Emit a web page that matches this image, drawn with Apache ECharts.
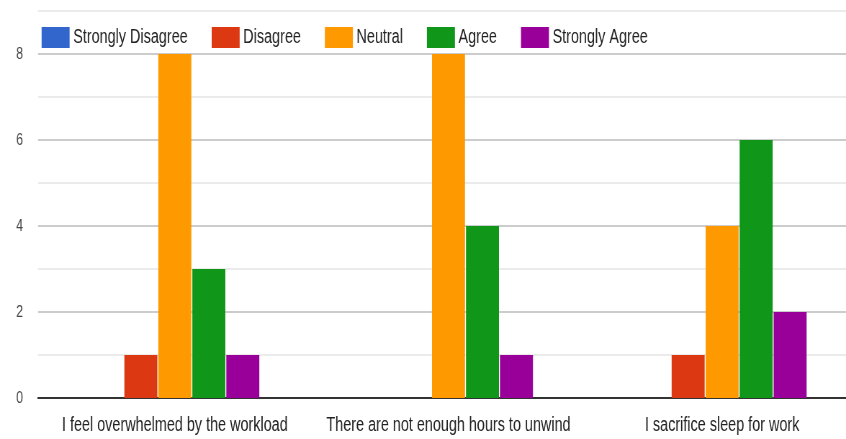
<!DOCTYPE html>
<html>
<head>
<meta charset="utf-8">
<script src="https://cdn.jsdelivr.net/npm/echarts@6/dist/echarts.min.js"></script>
<style>
  html, body { margin: 0; padding: 0; background: #fff; overflow: hidden; }
  #wrap { width: 846px; height: 439px; overflow: hidden; }
  /* the reference text looks horizontally squeezed, so draw wider and squeeze */
  #chart { height: 439px; transform-origin: 0 0; }
</style>
</head>
<body>
<div id="wrap"><div id="chart"></div></div>
<script>
// 数据
var categories = ['I feel overwhelmed by the workload', 'There are not enough hours to unwind', 'I sacrifice sleep for work'];
var seriesNames = ['Strongly Disagree', 'Disagree', 'Neutral', 'Agree', 'Strongly Agree'];
var stronglyDisagree = [0, 0, 0];
var disagree = [1, 0, 1];
var neutral = [8, 8, 4];
var agree = [3, 4, 6];
var stronglyAgree = [1, 1, 2];
var colors = ['#3366cc', '#dc3912', '#ff9900', '#109618', '#990099'];

// 横向压缩比例; plot runs past the right edge of the picture
var S = 0.72;
var fullW = 859;
var el = document.getElementById('chart');
el.style.width = Math.round(fullW / S) + 'px';
el.style.transform = 'scaleX(' + S + ')';

var font = '"Liberation Sans", Arial, sans-serif';
var myChart = echarts.init(el);

var values = [stronglyDisagree, disagree, neutral, agree, stronglyAgree];
var series = [];
for (var i = 0; i < seriesNames.length; i++) {
  series.push({
    name: seriesNames[i],
    type: 'bar',
    data: values[i],
    barWidth: 33 / S,
    barGap: '3%',
    itemStyle: { color: colors[i] }
  });
}

var option = {
  animation: false,
  color: colors,
  textStyle: { fontFamily: font },
  legend: {
    left: 38 / S,
    top: 22,
    itemWidth: 28 / S,
    itemHeight: 21,
    itemGap: 24 / S,
    icon: 'rect',
    textStyle: { fontFamily: font, fontSize: 20, color: '#222' },
    data: seriesNames
  },
  grid: { left: 38 / S, right: 0, top: 11, height: 387, containLabel: false },
  xAxis: {
    type: 'category',
    data: categories,
    axisLine: { lineStyle: { color: '#333', width: 2 } },
    axisTick: { show: false },
    axisLabel: { fontFamily: font, fontSize: 20, color: '#222', margin: 17, interval: 0 }
  },
  yAxis: {
    type: 'value',
    min: 0,
    max: 9,
    interval: 1,
    axisLine: { show: false },
    axisTick: { show: false },
    axisLabel: {
      fontFamily: font, fontSize: 17, color: '#444', margin: 15 / S,
      formatter: function (v) { return v % 2 === 0 ? v : ''; }
    },
    splitLine: { lineStyle: { color: ['#cccccc', '#ebebeb'], width: 2 } }
  },
  series: series
};
myChart.setOption(option);
</script>
</body>
</html>
